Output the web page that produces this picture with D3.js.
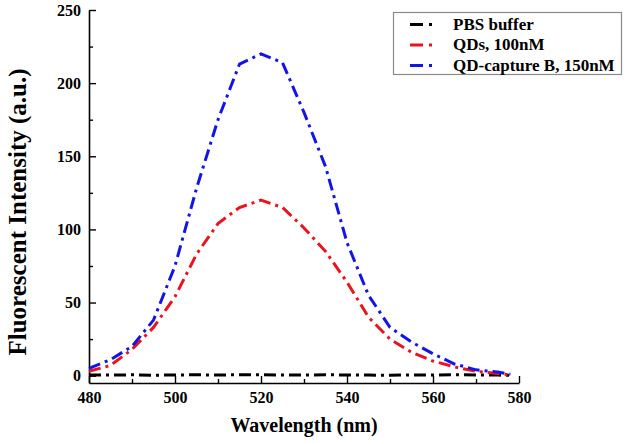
<!DOCTYPE html>
<html>
<head>
<meta charset="utf-8">
<script src="https://cdn.jsdelivr.net/npm/d3@7"></script>
<style>
  html, body { margin: 0; padding: 0; background: #fff; }
  svg { display: block; }
  text { font-family: "Liberation Serif", "Times New Roman", serif; font-weight: bold; }
</style>
</head>
<body>
<script>
// ---- data ----
const wavelengths = [480,485,490,495,500,505,510,515,520,525,530,535,540,545,550,555,560,565,570,575,578];
const pbsBuffer   = [0.5,0.4,0.6,0.3,0.5,0.6,0.4,0.7,0.6,0.5,0.4,0.6,0.5,0.4,0.3,0.5,0.4,0.6,0.5,0.4,0.3];
const qds100nM    = [3,7,18,33,54,83,104,115,120,115,101,85,64,40,25,16,10,6,3,1.5,0.5];
const qdCaptureB  = [5,11,20,38,75,128,175,213,220,214,180,143,91,55,33,23,15,8,4,2.5,1];
const seriesNames = ["PBS buffer", "QDs, 100nM", "QD-capture B, 150nM"];
const seriesColors = ["#000000", "#e8141e", "#1414e6"];
const xTicks = [480,500,520,540,560,580];
const xMinorTicks = [490,510,530,550,570];
const yTicks = [0,50,100,150,200,250];
const yMinorTicks = [25,75,125,175,225];

const W = 633, H = 444;
const svg = d3.select("body").append("svg").attr("width", W).attr("height", H);
svg.append("rect").attr("width", W).attr("height", H).attr("fill", "#fff");

const x = d3.scaleLinear().domain([480, 580]).range([89, 519]);
const y = d3.scaleLinear().domain([-5, 250]).range([383, 10]);

// axes
const xAxis = d3.axisBottom(x).tickValues(xTicks).tickSizeInner(-7).tickSizeOuter(0).tickPadding(9).tickFormat(d3.format("d"));
const gx = svg.append("g").attr("transform", `translate(0,${y(-5)})`).call(xAxis);
gx.select(".domain").attr("stroke", "#000").attr("stroke-width", 1.6);
gx.selectAll(".tick line").attr("stroke", "#000").attr("stroke-width", 1.4);
gx.selectAll(".tick text").attr("font-size", 16).attr("fill", "#000");
const xAxisMinor = d3.axisBottom(x).tickValues(xMinorTicks).tickSizeInner(-4).tickSizeOuter(0).tickFormat("");
const gxm = svg.append("g").attr("transform", `translate(0,${y(-5)})`).call(xAxisMinor);
gxm.select(".domain").remove();
gxm.selectAll(".tick line").attr("stroke", "#000").attr("stroke-width", 1.4);

const yAxis = d3.axisLeft(y).tickValues(yTicks).tickSizeInner(-7).tickSizeOuter(0).tickPadding(8);
const gy = svg.append("g").attr("transform", `translate(${x(480)},0)`).call(yAxis);
gy.select(".domain").attr("stroke", "#000").attr("stroke-width", 1.6);
gy.selectAll(".tick line").attr("stroke", "#000").attr("stroke-width", 1.4);
gy.selectAll(".tick text").attr("font-size", 16).attr("fill", "#000");
const yAxisMinor = d3.axisLeft(y).tickValues(yMinorTicks).tickSizeInner(-4).tickSizeOuter(0).tickFormat("");
const gym = svg.append("g").attr("transform", `translate(${x(480)},0)`).call(yAxisMinor);
gym.select(".domain").remove();
gym.selectAll(".tick line").attr("stroke", "#000").attr("stroke-width", 1.4);

// axis titles
svg.append("text").attr("x", (x(480) + x(580)) / 2).attr("y", 432)
  .attr("text-anchor", "middle").attr("font-size", 20).attr("fill", "#000")
  .text("Wavelength (nm)");
svg.append("text").attr("transform", `translate(26,212) rotate(-90)`)
  .attr("text-anchor", "middle").attr("font-size", 25).attr("fill", "#000")
  .text("Fluorescent Intensity (a.u.)");

// lines
const dash = "12,5,3,5";
const allSeries = [pbsBuffer, qds100nM, qdCaptureB];
const line = d3.line().x((d, i) => x(wavelengths[i])).y(d => y(d));
allSeries.forEach((s, k) => {
  svg.append("path").datum(s).attr("d", line)
    .attr("fill", "none").attr("stroke", seriesColors[k])
    .attr("stroke-width", 3).attr("stroke-dasharray", dash);
});

// legend
const lg = svg.append("g");
lg.append("rect").attr("x", 393.5).attr("y", 12.5).attr("width", 228).attr("height", 62)
  .attr("fill", "#fff").attr("stroke", "#8a8a8a").attr("stroke-width", 1.2);
seriesNames.forEach((name, k) => {
  const by = 29.5 + k * 20.5;
  lg.append("line").attr("x1", 410).attr("x2", 434).attr("y1", by - 5).attr("y2", by - 5)
    .attr("stroke", seriesColors[k]).attr("stroke-width", 3).attr("stroke-dasharray", "13,6,3,20");
  lg.append("text").attr("x", 453).attr("y", by).attr("font-size", 17).attr("fill", "#000").text(name);
});
</script>
</body>
</html>
